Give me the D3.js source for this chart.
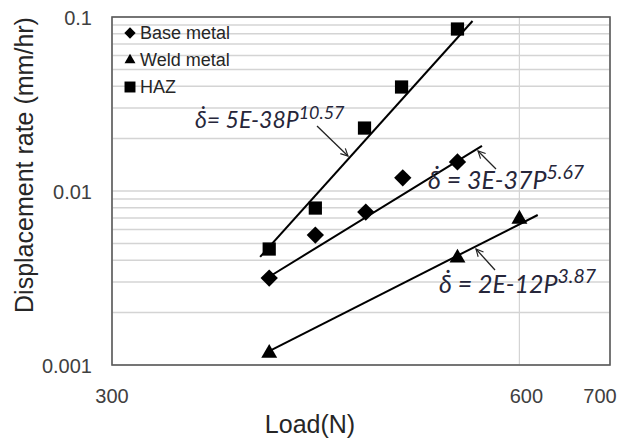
<!DOCTYPE html>
<html>
<head>
<meta charset="utf-8">
<script src="https://cdn.jsdelivr.net/npm/d3@7"></script>
<style>
  html, body { margin: 0; padding: 0; background: #fff; }
  svg { display: block; }
</style>
</head>
<body>
<svg id="chart" width="630" height="439"></svg>
<script>
// ---------------- DATA ----------------
const loadTicks = [300, 600, 700];
const loadTickLabels = ["300", "600", "700"];
const rateTicks = [0.001, 0.01, 0.1];
const rateTickLabels = ["0.001", "0.01", "0.1"];
const seriesNames = ["Base metal", "Weld metal", "HAZ"];

const baseLoad = [392, 424, 462, 492, 540];
const baseRate = [0.00316, 0.00558, 0.00757, 0.0119, 0.0147];
const weldLoad = [392, 540, 600];
const weldRate = [0.00117, 0.00412, 0.0069];
const hazLoad = [392, 424, 461, 491, 540];
const hazRate = [0.00464, 0.00798, 0.0230, 0.0396, 0.0853];

// power-law trend lines (end points, load / rate)
const baseTrendLoad = [389, 563];
const baseTrendRate = [0.0031, 0.01815];
const weldTrendLoad = [391, 619];
const weldTrendRate = [0.00119, 0.00728];
const hazTrendLoad = [386, 554];
const hazTrendRate = [0.00418, 0.0948];

const equations = [
  { lead: "δ\u0307= ", coef: "5E-38P", exp: "10.57" },
  { lead: "δ\u0307 = ", coef: "3E-37P", exp: "5.67" },
  { lead: "δ\u0307 = ", coef: "2E-12P", exp: "3.87" }
];

// ---------------- LAYOUT ----------------
const plot = { left: 112, right: 610, top: 17, bottom: 365 };
const eqLayout = [
  { x: 195, y: 128, size: 23, arrow: [[317, 126], [348, 156]] },
  { x: 428, y: 189, size: 25, arrow: [[496, 169], [478, 151]] },
  { x: 439, y: 293, size: 25, arrow: [[495, 270], [476, 249]] }
];
const xLabelDx = [0, 7, -10];

const svg = d3.select("#chart");
const x = d3.scaleLog().domain([300, 700]).range([plot.left, plot.right]);
const y = d3.scaleLog().domain([0.001, 0.1]).range([plot.bottom, plot.top]);

// grid lines
const gridVals = [];
[0.001, 0.01].forEach(d => { for (let k = 1; k <= 9; k++) gridVals.push(d * k); });
gridVals.push(0.1);
svg.append("g").selectAll("line").data(gridVals).join("line")
  .attr("x1", plot.left).attr("x2", plot.right)
  .attr("y1", d => y(d)).attr("y2", d => y(d))
  .attr("stroke", "#d4d4d4").attr("stroke-width", 1.5);
svg.append("g").selectAll("line").data(loadTicks).join("line")
  .attr("x1", d => x(d)).attr("x2", d => x(d))
  .attr("y1", plot.top).attr("y2", plot.bottom)
  .attr("stroke", "#d4d4d4").attr("stroke-width", 1.2);

// frame
svg.append("rect")
  .attr("x", plot.left).attr("y", plot.top)
  .attr("width", plot.right - plot.left).attr("height", plot.bottom - plot.top)
  .attr("fill", "none").attr("stroke", "#5a5a5a").attr("stroke-width", 1.6);

// tick labels
const tickFont = "Liberation Sans, Arial, sans-serif";
svg.append("g").selectAll("text").data(rateTicks).join("text")
  .attr("x", 92).attr("y", d => y(d) + 8)
  .attr("text-anchor", "end")
  .attr("font-family", tickFont).attr("font-size", 20).attr("fill", "#404040")
  .text((d, i) => rateTickLabels[i]);
svg.append("g").selectAll("text").data(loadTicks).join("text")
  .attr("x", (d, i) => x(d) + xLabelDx[i]).attr("y", 403)
  .attr("text-anchor", "middle")
  .attr("font-family", tickFont).attr("font-size", 20).attr("fill", "#404040")
  .text((d, i) => loadTickLabels[i]);

// axis titles
svg.append("text")
  .attr("transform", "translate(33,165) rotate(-90)")
  .attr("text-anchor", "middle")
  .attr("font-family", tickFont).attr("font-size", 25).attr("fill", "#262626")
  .text("Displacement rate (mm/hr)");
svg.append("text")
  .attr("x", 310).attr("y", 433)
  .attr("text-anchor", "middle")
  .attr("font-family", tickFont).attr("font-size", 25).attr("fill", "#262626")
  .text("Load(N)");

// trend lines
const line = d3.line().x(d => x(d[0])).y(d => y(d[1]));
[[baseTrendLoad, baseTrendRate], [weldTrendLoad, weldTrendRate], [hazTrendLoad, hazTrendRate]]
  .forEach(([L, R]) => {
    svg.append("path")
      .attr("d", line(L.map((v, i) => [v, R[i]])))
      .attr("fill", "none").attr("stroke", "#000").attr("stroke-width", 2);
  });

// markers
const shapes = {
  diamond: (s) => d3.symbol(d3.symbolSquare, s),
  triangle: (s) => d3.symbol(d3.symbolTriangle, s),
  square: (s) => d3.symbol(d3.symbolSquare, s)
};
function drawSeries(L, R, shape, size, rot) {
  svg.append("g").selectAll("path").data(L.map((v, i) => [v, R[i]])).join("path")
    .attr("d", shapes[shape](size)())
    .attr("transform", d => `translate(${x(d[0])},${y(d[1])}) rotate(${rot})`)
    .attr("fill", "#000");
}
drawSeries(baseLoad, baseRate, "diamond", 150, 45);
drawSeries(weldLoad, weldRate, "triangle", 110, 0);
drawSeries(hazLoad, hazRate, "square", 175, 0);

// legend
const legend = svg.append("g");
const legShapes = [["diamond", 64, 45], ["triangle", 52, 0], ["square", 120, 0]];
const legY = [33, 60, 87];
seriesNames.forEach((name, i) => {
  legend.append("path")
    .attr("d", shapes[legShapes[i][0]](legShapes[i][1])())
    .attr("transform", `translate(130,${legY[i]}) rotate(${legShapes[i][2]})`)
    .attr("fill", "#000");
  legend.append("text")
    .attr("x", 140).attr("y", legY[i] + 6)
    .attr("font-family", tickFont).attr("font-size", 18).attr("fill", "#262626")
    .text(name);
});

// equations + arrows
const defs = svg.append("defs");
defs.append("marker").attr("id", "arr")
  .attr("viewBox", "0 0 10 10").attr("refX", 9).attr("refY", 5)
  .attr("markerWidth", 9).attr("markerHeight", 9).attr("markerUnits", "userSpaceOnUse")
  .attr("orient", "auto")
  .append("path").attr("d", "M1,1 L9,5 L1,9").attr("fill", "none")
  .attr("stroke", "#222").attr("stroke-width", 1.3);

equations.forEach((eq, i) => {
  const lay = eqLayout[i];
  const t = svg.append("text")
    .attr("x", lay.x).attr("y", lay.y)
    .attr("font-family", "Lato, 'Open Sans', sans-serif")
    .attr("font-style", "italic")
    .attr("font-size", lay.size).attr("fill", "#26263a");
  t.append("tspan").text(eq.lead);
  t.append("tspan").text(eq.coef);
  t.append("tspan").attr("dy", -lay.size * 0.4).attr("font-size", lay.size * 0.78).text(eq.exp);
  svg.append("line")
    .attr("x1", lay.arrow[0][0]).attr("y1", lay.arrow[0][1])
    .attr("x2", lay.arrow[1][0]).attr("y2", lay.arrow[1][1])
    .attr("stroke", "#222").attr("stroke-width", 1.3)
    .attr("marker-end", "url(#arr)");
});
</script>
</body>
</html>
